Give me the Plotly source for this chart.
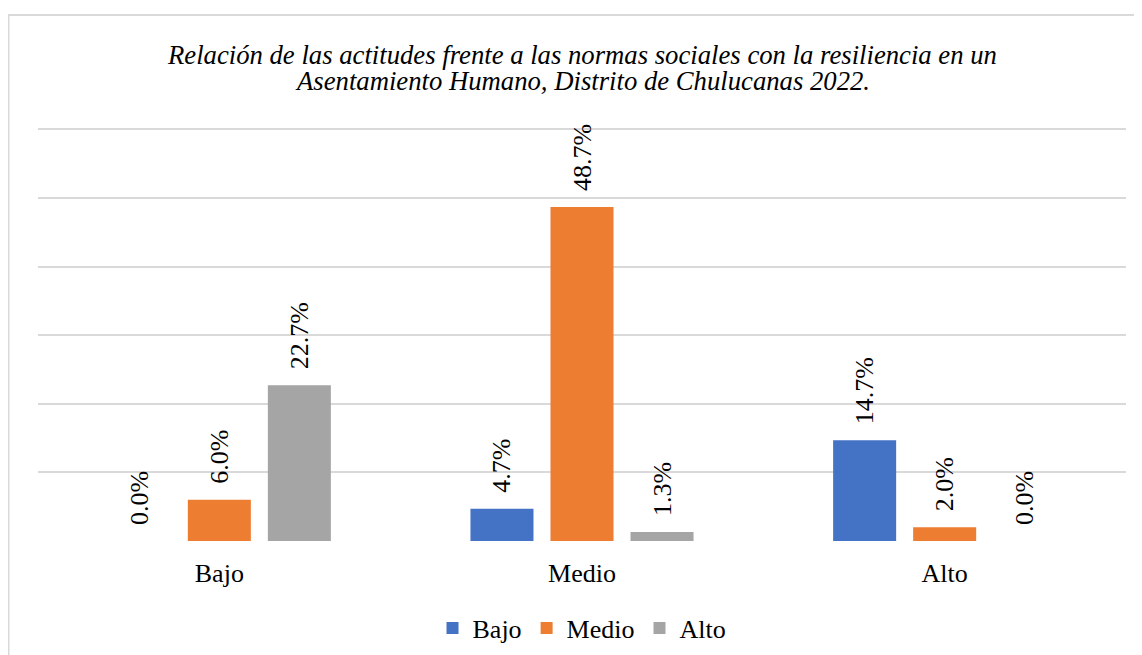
import plotly.graph_objects as go

# categories on the x axis and the three resilience levels (series)
categories = ["Bajo", "Medio", "Alto"]
series_names = ["Bajo", "Medio", "Alto"]
bajo_vals = [0.0, 4.7, 14.7]
medio_vals = [6.0, 48.7, 2.0]
alto_vals = [22.7, 1.3, 0.0]

title_lines = [
    "Relación de las actitudes frente a las normas sociales con la resiliencia en un",
    "Asentamiento Humano, Distrito de Chulucanas 2022.",
]

COLOURS = ["#4472C4", "#ED7D31", "#A5A5A5"]
FONT = "Liberation Serif"
PAD = "\u00a0\u00a0"  # lifts the rotated labels off the bar top
W, H = 1134, 647

fig = go.Figure()
for name, vals, colour in zip(series_names, [bajo_vals, medio_vals, alto_vals], COLOURS):
    fig.add_trace(
        go.Bar(
            x=categories,
            y=vals,
            name=name,
            marker=dict(color=colour, line=dict(width=0)),
            text=[f"{PAD}{v:.1f}%" for v in vals],
            textposition="outside",
            textangle=-90,
            constraintext="none",
            cliponaxis=False,
            textfont=dict(family=FONT, size=26, color="#000000"),
        )
    )

# light grey frame round the chart area
fig.add_shape(
    type="rect", xref="paper", yref="paper",
    x0=-0.0271, x1=1.2, y0=-0.6, y1=1.2675,
    line=dict(color="#D9D9D9", width=2), layer="below",
)

# two-line italic title, lines set a little tighter than plotly's default spacing
for i, line in enumerate(title_lines):
    fig.add_annotation(
        text=line, showarrow=False,
        xref="paper", x=0.5, xanchor="center",
        yref="paper", y=(533 - (47 + 26 * i)) / 415.4, yanchor="middle",
        font=dict(family=FONT, size=26.7, color="#000000", style="italic"),
    )

fig.update_layout(
    width=W,
    height=H,
    margin=dict(l=30, r=16, t=118, b=114),
    paper_bgcolor="white",
    plot_bgcolor="white",
    barmode="group",
    bargap=0.338,
    bargroupgap=0.2125,
    xaxis=dict(
        showgrid=False, showline=False, ticks="",
        tickfont=dict(family=FONT, size=26, color="#000000"),
        ticklabelstandoff=14,
    ),
    yaxis=dict(
        range=[0, 60.5], tickvals=[0, 10, 20, 30, 40, 50, 60], showticklabels=False,
        showgrid=True, gridcolor="#D9D9D9", gridwidth=2,
        zeroline=False, showline=False,
    ),
    legend=dict(
        orientation="h", x=0.5, xanchor="center",
        yref="container", y=1 - 620 / H, yanchor="middle",
        font=dict(family=FONT, size=26, color="#000000"),
        itemclick=False,
    ),
    showlegend=True,
)

fig.write_html("out.html")
